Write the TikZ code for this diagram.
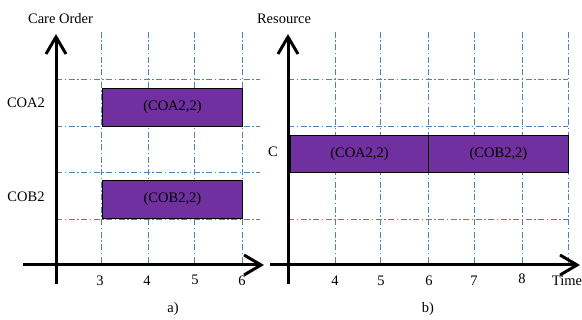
\documentclass[tikz,border=0pt]{standalone}
\usepackage{fontspec}
\setmainfont{Liberation Serif}
\usetikzlibrary{arrows.meta}
\definecolor{gridblue}{HTML}{4F81BD}
\definecolor{barpurple}{HTML}{7030A0}
\tikzset{
  axisline/.style={line width=3pt,-{Straight Barb[length=17pt,width=20pt,line width=3pt]}},
  plainaxis/.style={line width=3pt},
  gridline/.style={gridblue,line width=0.9pt,dash pattern=on 6pt off 2.5pt on 1.5pt off 2.5pt},
  bar/.style={draw=black,line width=0.9pt,fill=barpurple,inner sep=0pt,font=\fontsize{14.5}{16}\selectfont},
  lbl/.style={font=\fontsize{14.5}{16}\selectfont,inner sep=0pt}
}
\begin{document}
\begin{tikzpicture}[x=1pt,y=-1pt]
\useasboundingbox (0,0) rectangle (582,320);
% ---------- left panel ----------
\coordinate (LYb) at (56,284);
\coordinate (LYt) at (56,34);
\coordinate (LXl) at (23,265);
\coordinate (LXr) at (264,265);
\foreach \x in {101,148,194,242} {
  \draw[gridline] (\x,32) -- (\x,265);
}
\foreach \y in {79,126,172,219} {
  \draw[gridline] (56,\y) -- (260,\y);
}
\node[bar,minimum width=140pt,minimum height=38pt,anchor=north west] (coa) at (102,88) {(COA2,2)};
\node[bar,minimum width=140pt,minimum height=38pt,anchor=north west] (cob) at (102,180) {(COB2,2)};
\draw[axisline] (LYb) -- (LYt);
\draw[axisline] (LXl) -- (LXr);
\node[lbl] (careorder) at (60.5,19) {Care Order};
\node[lbl] (lcoa) at (26,103) {COA2};
\node[lbl] (lcob) at (26,197) {COB2};
\node[lbl] (t3) at (100,281) {3};
\node[lbl] (t4) at (147,281) {4};
\node[lbl] (t5) at (195,280) {5};
\node[lbl] (t6) at (242,281) {6};
\node[lbl] (capa) at (173,309) {a)};
% ---------- right panel ----------
\coordinate (RYb) at (288,284);
\coordinate (RYt) at (288,34);
\coordinate (RXl) at (270,265);
\coordinate (RXr) at (580,265);
\foreach \x in {335,380,428,474,522,568} {
  \draw[gridline] (\x,32) -- (\x,265);
}
\foreach \y in {79,126,219} {
  \draw[gridline] (288,\y) -- (568,\y);
}
\node[bar,minimum width=138pt,minimum height=37pt,anchor=north west] (rcoa) at (290,135) {(COA2,2)};
\node[bar,minimum width=140pt,minimum height=37pt,anchor=north west] (rcob) at (428,135) {(COB2,2)};
\draw[axisline] (RYb) -- (RYt);
\draw[axisline] (RXl) -- (RXr);
\node[lbl] (resource) at (284,19) {Resource};
\node[lbl] (lc) at (273,152) {C};
\node[lbl] (u4) at (335,281) {4};
\node[lbl] (u5) at (381,281) {5};
\node[lbl] (u6) at (429,281) {6};
\node[lbl] (u7) at (474,281) {7};
\node[lbl] (u8) at (522,279) {8};
\node[lbl] (time) at (567,281) {Time};
\node[lbl] (capb) at (428,309) {b)};
\end{tikzpicture}
\end{document}
